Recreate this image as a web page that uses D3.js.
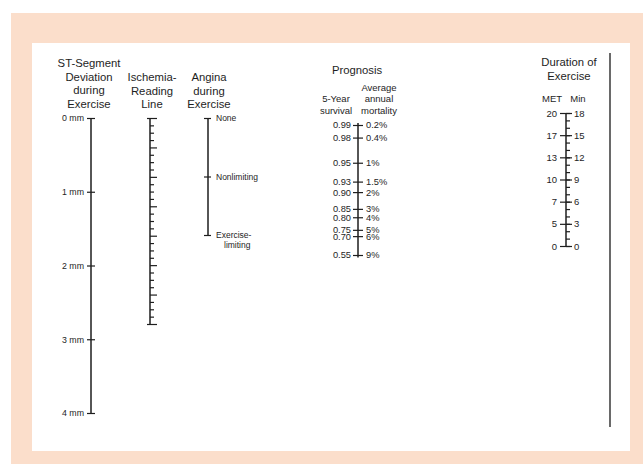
<!DOCTYPE html>
<html>
<head>
<meta charset="utf-8">
<title>Duke Treadmill Nomogram</title>
<script src="https://cdn.jsdelivr.net/npm/d3@7"></script>
<style>
  body { margin: 0; background: #fff; }
  text { font-family: "Liberation Sans", Arial, sans-serif; fill: #1e1e1e; }
</style>
</head>
<body>
<div id="chart"></div>
<script>
// ---- data ----
var stValues = [0, 1, 2, 3, 4];
var stLabels = ["0 mm", "1 mm", "2 mm", "3 mm", "4 mm"];

var ischemiaSteps = d3.range(0, 29);          // unlabeled reading line, 28 steps
var ischemiaMajorEvery = 4;

var anginaValues = [0, 1, 2];
var anginaLabels = ["None", "Nonlimiting", "Exercise-limiting"];

var survival = ["0.99", "0.98", "0.95", "0.93", "0.90", "0.85", "0.80", "0.75", "0.70", "0.55"];
var mortality = ["0.2%", "0.4%", "1%", "1.5%", "2%", "3%", "4%", "5%", "6%", "9%"];
var prognosisScore = [7, 4, -2, -6.5, -9, -13, -15, -18, -19.5, -24];

var minuteMajor = [0, 3, 6, 9, 12, 15, 18];
var metLabels = ["0", "5", "7", "10", "13", "17", "20"];
var minuteMinor = d3.range(0, 19);

var width = 643, height = 464;

var svg = d3.select("#chart").append("svg")
    .attr("width", width)
    .attr("height", height);

// background frame
svg.append("rect").attr("x", 11).attr("y", 13).attr("width", 632).attr("height", 451).attr("fill", "#fbdecb");
svg.append("rect").attr("x", 32).attr("y", 43).attr("width", 598).attr("height", 408).attr("fill", "#ffffff");
svg.append("line").attr("x1", 610).attr("x2", 610).attr("y1", 53).attr("y2", 427)
    .attr("stroke", "#2a2a2a").attr("stroke-width", 1.4);

// scales
var yST = d3.scaleLinear().domain([0, 4]).range([118, 413]);
var yIsch = d3.scaleLinear().domain([0, 28]).range([118, 324]);
var yAng = d3.scaleLinear().domain([0, 2]).range([118, 235]);
var yProg = d3.scaleLinear().domain([7, -24]).range([125, 255]);
var yMin = d3.scaleLinear().domain([18, 0]).range([113, 246]);

function styleAxis(g, size) {
  g.select(".domain").remove();
  g.attr("font-family", null).attr("font-size", null);
  g.selectAll(".tick line").attr("stroke", "#1e1e1e").attr("stroke-width", 1.2);
  g.selectAll(".tick text").style("font-size", size + "px").attr("fill", "#1e1e1e");
}

function spine(x, y1, y2) {
  svg.append("line").attr("x1", x).attr("x2", x).attr("y1", y1).attr("y2", y2)
      .attr("stroke", "#1e1e1e").attr("stroke-width", 1.5);
}

function title(lines, cx, y0, step, size) {
  var t = svg.append("text").attr("text-anchor", "middle").style("font-size", size + "px");
  lines.forEach(function(l, i) {
    t.append("tspan").attr("x", cx).attr("y", y0 + i * step).text(l);
  });
}

// ---- ST-segment ----
var stX = 91;
spine(stX, yST(0), yST(4));
svg.append("g").attr("transform", "translate(" + stX + ",0)")
  .call(d3.axisLeft(yST).tickValues(stValues).tickFormat(function(d, i) { return stLabels[i]; })
    .tickSize(4).tickPadding(3).tickSizeOuter(0))
  .call(styleAxis, 8.8);
svg.append("g").attr("transform", "translate(" + stX + ",0)")
  .call(d3.axisRight(yST).tickValues(stValues).tickFormat("").tickSize(4).tickSizeOuter(0))
  .call(styleAxis, 8.8);
title(["ST-Segment", "Deviation", "during", "Exercise"], 89, 67, 13.7, 11.3);

// ---- Ischemia reading line ----
var isX = 150;
spine(isX, yIsch(0), yIsch(28));
svg.append("g").attr("transform", "translate(" + isX + ",0)")
  .call(d3.axisRight(yIsch).tickValues(ischemiaSteps.filter(function(d) { return d % ischemiaMajorEvery; }))
    .tickFormat("").tickSize(4).tickSizeOuter(0))
  .call(styleAxis, 8);
svg.append("g").attr("transform", "translate(" + isX + ",0)")
  .call(d3.axisRight(yIsch).tickValues(ischemiaSteps.filter(function(d) { return d % ischemiaMajorEvery === 0; }))
    .tickFormat("").tickSize(7).tickSizeOuter(0))
  .call(styleAxis, 8);
svg.append("g").attr("transform", "translate(" + isX + ",0)")
  .call(d3.axisLeft(yIsch).tickValues([0, 28]).tickFormat("").tickSize(3).tickSizeOuter(0))
  .call(styleAxis, 8);
title(["Ischemia-", "Reading", "Line"], 152, 81, 13.7, 11.3);

// ---- Angina ----
var anX = 208;
spine(anX, yAng(0), yAng(2));
svg.append("g").attr("transform", "translate(" + anX + ",0)")
  .call(d3.axisLeft(yAng).tickValues(anginaValues).tickFormat("").tickSize(4).tickSizeOuter(0))
  .call(styleAxis, 8.5);
var angR = svg.append("g").attr("transform", "translate(" + anX + ",0)")
  .call(d3.axisRight(yAng).tickValues(anginaValues).tickFormat(function(d, i) { return anginaLabels[i]; })
    .tickSize(3).tickPadding(5).tickSizeOuter(0))
  .call(styleAxis, 8.5);
angR.selectAll(".tick text").each(function(d) {
  if (d === 2) {
    var t = d3.select(this);
    t.text(null);
    t.append("tspan").attr("x", 8).text("Exercise-");
    t.append("tspan").attr("x", 16).attr("dy", "1.2em").text("limiting");
  }
});
title(["Angina", "during", "Exercise"], 209, 81, 13.7, 11.3);

// ---- Prognosis ----
var prX = 358;
spine(prX, yProg(7.5), yProg(-24.6));
svg.append("g").attr("transform", "translate(" + prX + ",0)")
  .call(d3.axisLeft(yProg).tickValues(prognosisScore).tickFormat(function(d, i) { return survival[i]; })
    .tickSize(5).tickPadding(2).tickSizeOuter(0))
  .call(styleAxis, 9.3);
svg.append("g").attr("transform", "translate(" + prX + ",0)")
  .call(d3.axisRight(yProg).tickValues(prognosisScore).tickFormat(function(d, i) { return mortality[i]; })
    .tickSize(5).tickPadding(3).tickSizeOuter(0))
  .call(styleAxis, 9.3);
title(["Prognosis"], 357, 74, 0, 11.3);
title(["Average", "annual", "mortality"], 379, 90.5, 11.5, 9.5);
title(["5-Year", "survival"], 336, 102, 11.5, 9.5);

// ---- Duration of exercise ----
var duX = 566;
spine(duX, yMin(18), yMin(0));
svg.append("g").attr("transform", "translate(" + duX + ",0)")
  .call(d3.axisRight(yMin).tickValues(minuteMinor).tickFormat("").tickSize(4).tickSizeOuter(0))
  .call(styleAxis, 9.5);
svg.append("g").attr("transform", "translate(" + duX + ",0)")
  .call(d3.axisRight(yMin).tickValues(minuteMajor).tickFormat(d3.format("d"))
    .tickSize(6).tickPadding(2).tickSizeOuter(0))
  .call(styleAxis, 9.5);
svg.append("g").attr("transform", "translate(" + duX + ",0)")
  .call(d3.axisLeft(yMin).tickValues(minuteMajor).tickFormat(function(d, i) { return metLabels[i]; })
    .tickSize(6).tickPadding(3).tickSizeOuter(0))
  .call(styleAxis, 9.5);
title(["Duration of", "Exercise"], 569, 66, 13.5, 11.3);
title(["MET"], 552, 102, 0, 9.5);
title(["Min"], 578, 102, 0, 9.5);
</script>
</body>
</html>
